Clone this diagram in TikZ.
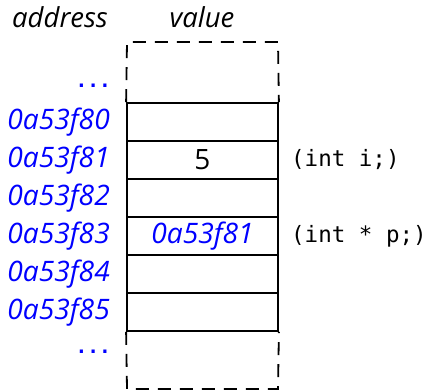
\documentclass[tikz,border=0pt]{standalone}
\usepackage{fontspec}
\setmainfont{Open Sans}
\setmonofont{DejaVu Sans Mono}
\begin{document}
\begin{tikzpicture}[x=1pt,y=-1pt,
  cell/.style={draw,line width=1.8pt,minimum width=151pt,minimum height=38pt,inner sep=0pt,font=\fontsize{28}{30}\selectfont},
  addr/.style={anchor=east,text=blue,font=\itshape\fontsize{28.2}{30}\selectfont,inner sep=0pt},
  hdr/.style={font=\itshape\fontsize{27.5}{29}\selectfont,inner sep=0pt},
  decl/.style={anchor=west,font=\ttfamily\fontsize{22.5}{24}\selectfont,inner sep=0pt},
  dots/.style={anchor=base east,text=blue,font=\ttfamily\bfseries\fontsize{19.5}{22}\selectfont,inner sep=0pt},
  dashedge/.style={line width=1.8pt,dash pattern=on 13pt off 9pt}]
\useasboundingbox (0,0) rectangle (431,391);
\node[hdr] (haddr) at (60,17) {address};
\node[hdr] (hval) at (202,17) {value};
\node[cell] (c0) at (202.5,122) {};
\node[cell] (c1) at (202.5,160) {5};
\node[cell] (c2) at (202.5,198) {};
\node[cell,text=blue,font=\itshape\fontsize{28.2}{30}\selectfont] (c3) at (202.5,236) {0a53f81};
\node[cell] (c4) at (202.5,274) {};
\node[cell] (c5) at (202.5,312) {};
\coordinate (tl) at (127,42);
\coordinate (tr) at (278,42);
\coordinate (bl) at (127,389);
\coordinate (br) at (278,389);
\draw[dashedge] (c0.north west) -- (tl) -- (tr) -- (c0.north east);
\draw[dashedge] (c5.south west) -- (bl) -- (br) -- (c5.south east);
\node[dots] (d0) at (111,87.5) {...};
\node[dots] (d1) at (111,353.5) {...};
\node[addr] (a0) at (110,122) {0a53f80};
\node[addr] (a1) at (110,160) {0a53f81};
\node[addr] (a2) at (110,198) {0a53f82};
\node[addr] (a3) at (110,236) {0a53f83};
\node[addr] (a4) at (110,274) {0a53f84};
\node[addr] (a5) at (110,312) {0a53f85};
\node[decl] (di) at (291,160) {(int i;)};
\node[decl] (dp) at (291,236) {(int * p;)};
\end{tikzpicture}
\end{document}
